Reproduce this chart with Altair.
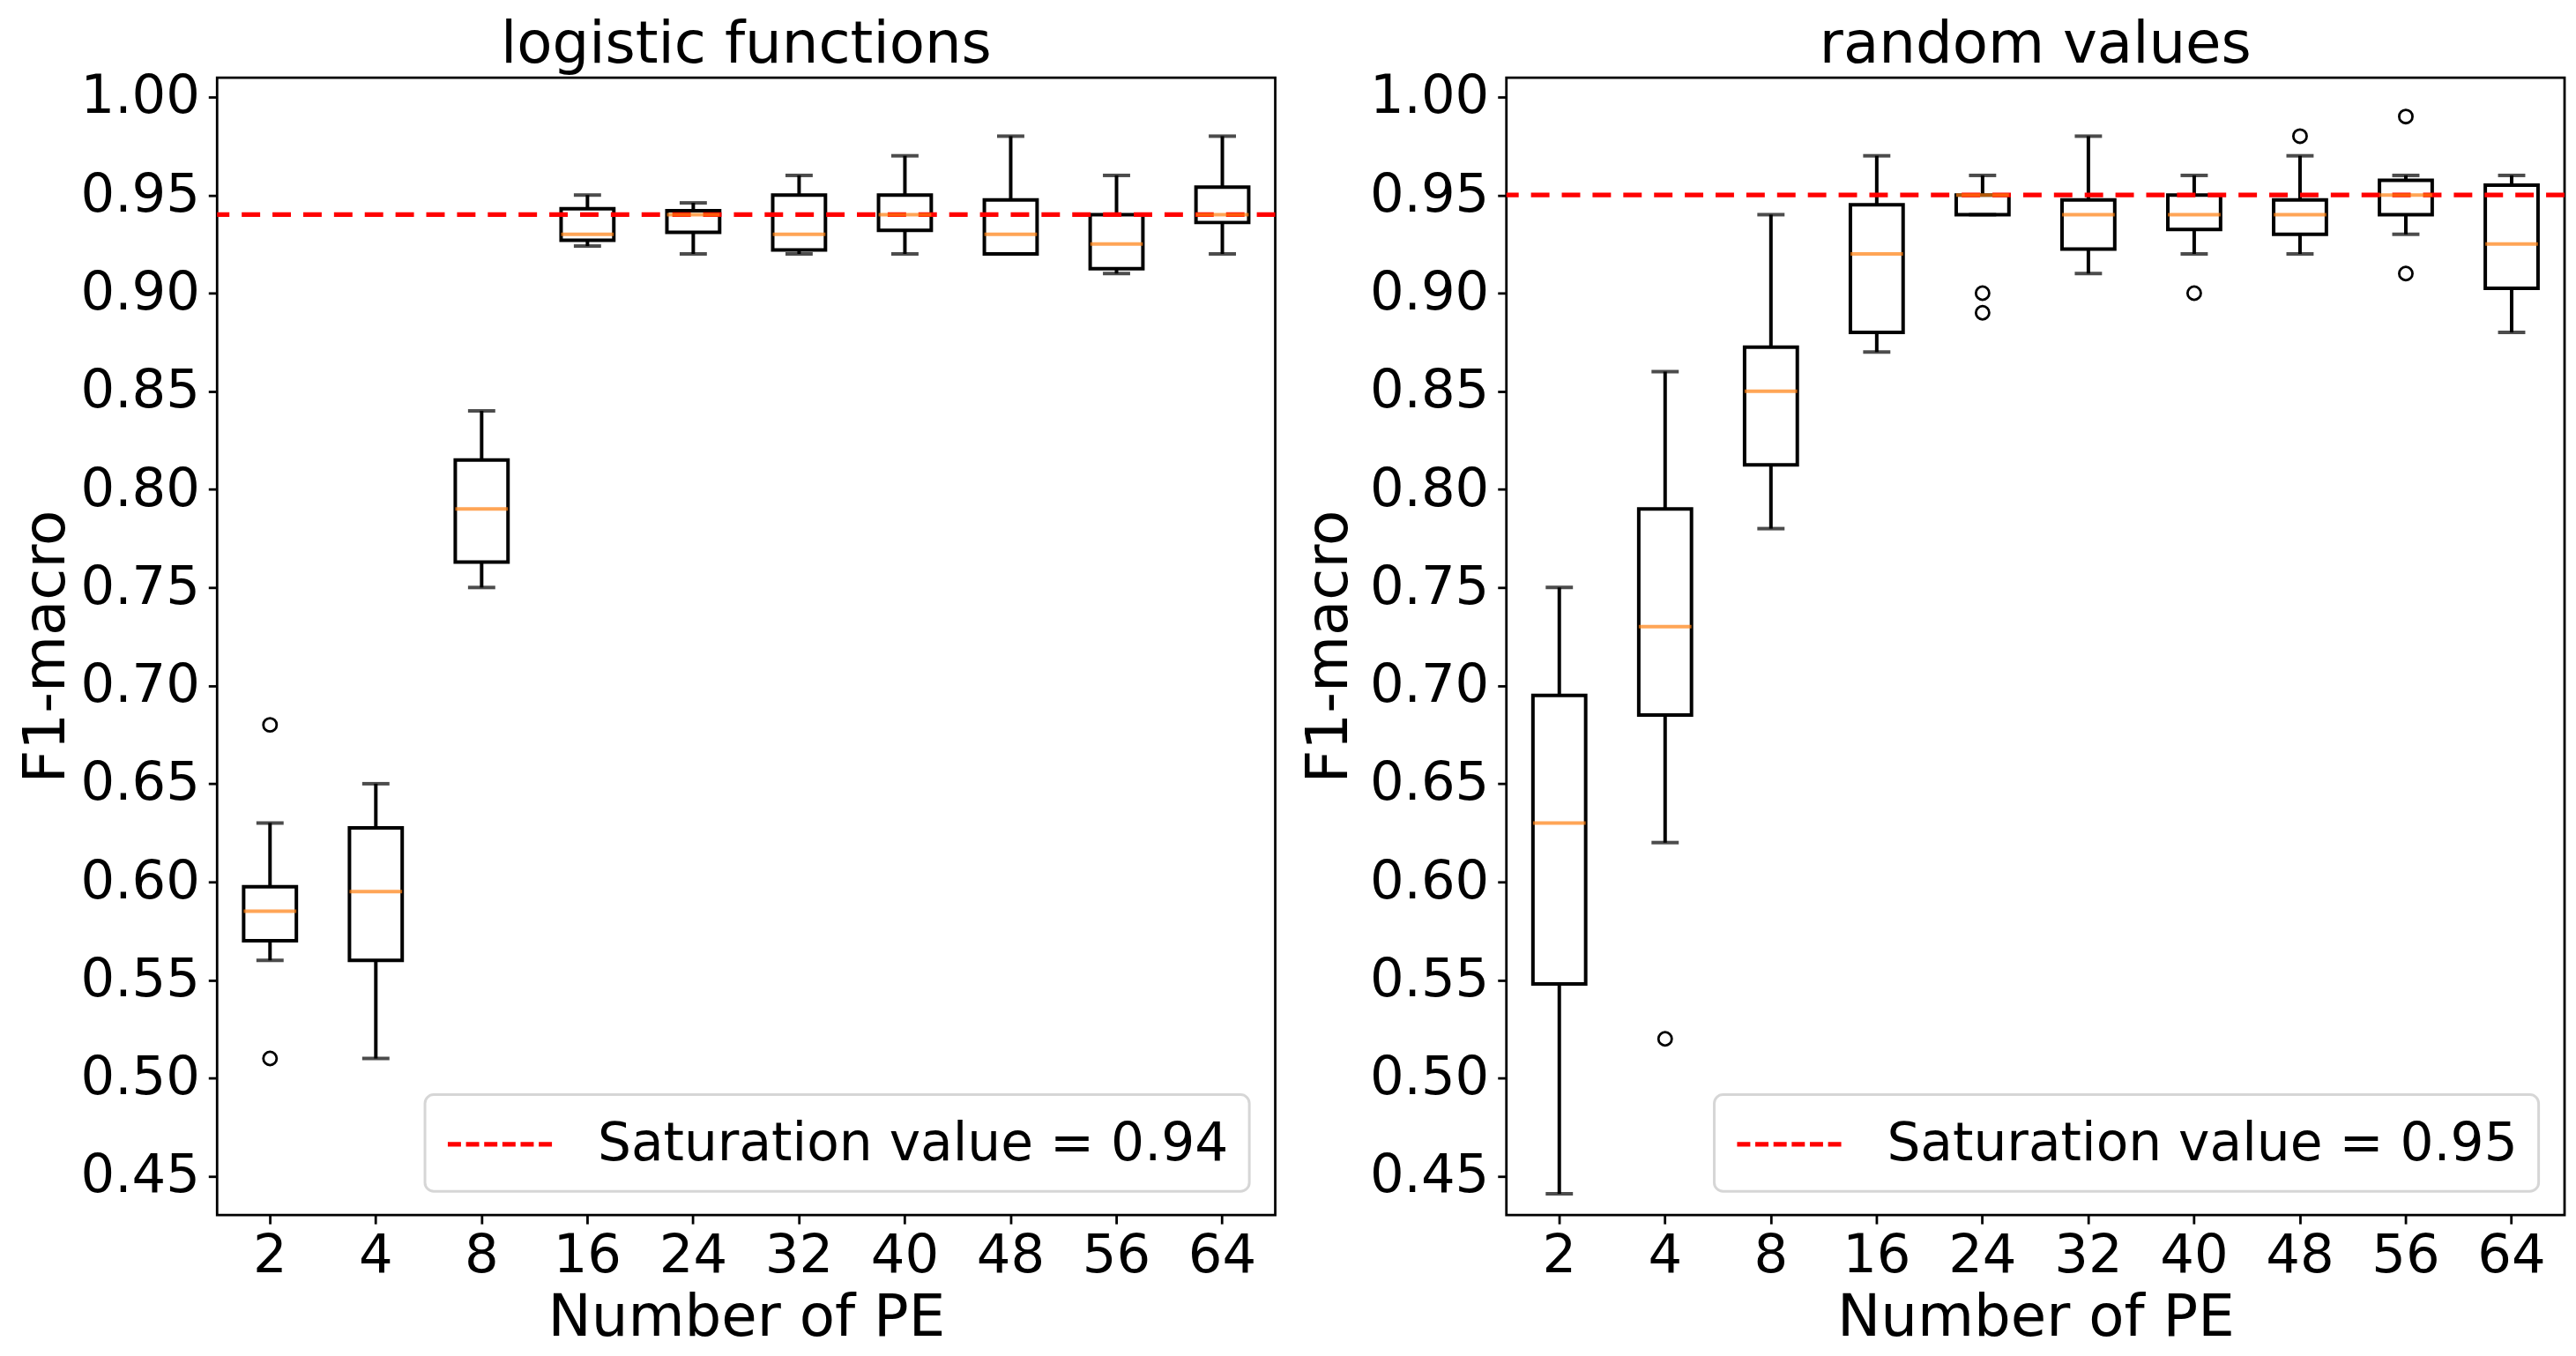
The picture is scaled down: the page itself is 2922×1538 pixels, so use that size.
import altair as alt
import pandas as pd

FONT = "DejaVu Sans"

categories = ["2", "4", "8", "16", "24", "32", "40", "48", "56", "64"]

# logistic functions
log_whisk_low = [0.56, 0.51, 0.75, 0.924, 0.92, 0.92, 0.92, 0.92, 0.91, 0.92]
log_q1 = [0.570, 0.560, 0.763, 0.927, 0.931, 0.922, 0.932, 0.920, 0.9125, 0.936]
log_median = [0.585, 0.595, 0.790, 0.930, 0.940, 0.930, 0.940, 0.930, 0.925, 0.940]
log_q3 = [0.5975, 0.6275, 0.815, 0.943, 0.942, 0.950, 0.950, 0.9475, 0.940, 0.954]
log_whisk_high = [0.63, 0.65, 0.84, 0.95, 0.946, 0.96, 0.97, 0.98, 0.96, 0.98]
log_outlier_cat = ["2", "2"]
log_outlier_val = [0.68, 0.51]
log_saturation = 0.94

# random values
rnd_whisk_low = [0.441, 0.62, 0.78, 0.87, 0.94, 0.91, 0.92, 0.92, 0.93, 0.88]
rnd_q1 = [0.548, 0.685, 0.8125, 0.88, 0.94, 0.9225, 0.9325, 0.93, 0.94, 0.9025]
rnd_median = [0.63, 0.73, 0.85, 0.92, 0.95, 0.94, 0.94, 0.94, 0.95, 0.925]
rnd_q3 = [0.695, 0.79, 0.8725, 0.945, 0.95, 0.9475, 0.95, 0.9475, 0.9575, 0.955]
rnd_whisk_high = [0.75, 0.86, 0.94, 0.97, 0.96, 0.98, 0.96, 0.97, 0.96, 0.96]
rnd_outlier_cat = ["4", "24", "24", "40", "48", "56", "56"]
rnd_outlier_val = [0.52, 0.90, 0.89, 0.90, 0.98, 0.99, 0.91]
rnd_saturation = 0.95

y_ticks = [0.45, 0.50, 0.55, 0.60, 0.65, 0.70, 0.75, 0.80, 0.85, 0.90, 0.95, 1.00]
y_domain = [0.4302, 1.0098]

W, H = 1204, 1294
LW = 4


def panel(title, wl, q1, med, q3, wh, ocat, oval, sat, ytitle_pad):
    df = pd.DataFrame({"cat": categories, "wl": wl, "q1": q1, "med": med, "q3": q3, "wh": wh})
    odf = pd.DataFrame({"cat": ocat, "val": oval})
    sdf = pd.DataFrame({"val": [sat], "label": [f"Saturation value = {sat:.2f}"]})

    x = alt.X("cat:N", sort=categories, scale=alt.Scale(paddingInner=0, paddingOuter=0),
              axis=alt.Axis(title="Number of PE", labelAngle=0))
    yscale = alt.Scale(domain=y_domain, nice=False, zero=False)
    yaxis = alt.Axis(title="F1-macro", values=y_ticks, format=".2f", titlePadding=ytitle_pad)

    base = alt.Chart(df)
    low_wh = base.mark_rule(color="black", strokeWidth=LW).encode(
        x=x, y=alt.Y("wl:Q", scale=yscale, axis=yaxis), y2="q1:Q")
    high_wh = base.mark_rule(color="black", strokeWidth=LW).encode(
        x=x, y=alt.Y("q3:Q", scale=yscale, axis=yaxis), y2="wh:Q")
    cap_lo = base.mark_tick(color="black", size=31, thickness=LW).encode(
        x=x, y=alt.Y("wl:Q", scale=yscale, axis=yaxis))
    cap_hi = base.mark_tick(color="black", size=31, thickness=LW).encode(
        x=x, y=alt.Y("wh:Q", scale=yscale, axis=yaxis))
    box = base.mark_bar(fillOpacity=0, stroke="black", strokeWidth=LW, size=60).encode(
        x=x, y=alt.Y("q1:Q", scale=yscale, axis=yaxis), y2="q3:Q")
    sat_rule = alt.Chart(sdf).mark_rule(strokeDash=[21, 14], strokeWidth=5.3).encode(
        y=alt.Y("val:Q", scale=yscale, axis=yaxis),
        color=alt.Color("label:N", scale=alt.Scale(range=["#ff0000"]),
                        legend=alt.Legend(title=None, orient="none", legendX=236.5, legendY=1157,
                                          symbolType="M-2,0H2", symbolSize=3721,
                                          symbolOffset=30.5,
                                          symbolStrokeWidth=5.3, symbolDash=[15, 5.7],
                                          labelFontSize=60, labelFont=FONT, labelColor="black",
                                          labelOffset=76, labelLimit=0, padding=23,
                                          strokeColor="#d6d6d6", fillColor="white",
                                          cornerRadius=10)))
    median = base.mark_tick(color="#ff7f0e", size=60, thickness=LW).encode(
        x=x, y=alt.Y("med:Q", scale=yscale, axis=yaxis))
    outl = alt.Chart(odf).mark_point(shape="circle", filled=False, color="black",
                                     size=230, strokeWidth=2.8, opacity=1).encode(
        x=x, y=alt.Y("val:Q", scale=yscale, axis=yaxis))

    return alt.layer(low_wh, high_wh, cap_lo, cap_hi, box, sat_rule, median, outl).properties(
        width=W, height=H,
        title=alt.TitleParams(title, fontSize=66, font=FONT, fontWeight="normal", color="black",
                              anchor="middle", baseline="alphabetic", offset=-58, frame="group"))


left = panel("logistic functions", log_whisk_low, log_q1, log_median, log_q3, log_whisk_high,
             log_outlier_cat, log_outlier_val, log_saturation, 4)
right = panel("random values", rnd_whisk_low, rnd_q1, rnd_median, rnd_q3, rnd_whisk_high,
              rnd_outlier_cat, rnd_outlier_val, rnd_saturation, 12)

chart = alt.hconcat(left, right, spacing=21).resolve_scale(color="independent").resolve_legend(
    color="independent").properties(
    padding={"left": 10, "top": 6, "right": 0, "bottom": 2}
).configure_view(stroke="black", strokeWidth=2.8).configure_axis(
    labelFont=FONT, titleFont=FONT, labelFontSize=61, titleFontSize=66, labelColor="black",
    titleColor="black", titleFontWeight="normal", domain=False, grid=False, tickColor="black",
    tickWidth=2.8, tickSize=10
).configure_axisY(labelPadding=10).configure_axisX(
    labelPadding=7, titlePadding=8
).configure_legend(strokeWidth=3)

chart.save("out.html", embed_options={"renderer": "svg", "actions": False})
